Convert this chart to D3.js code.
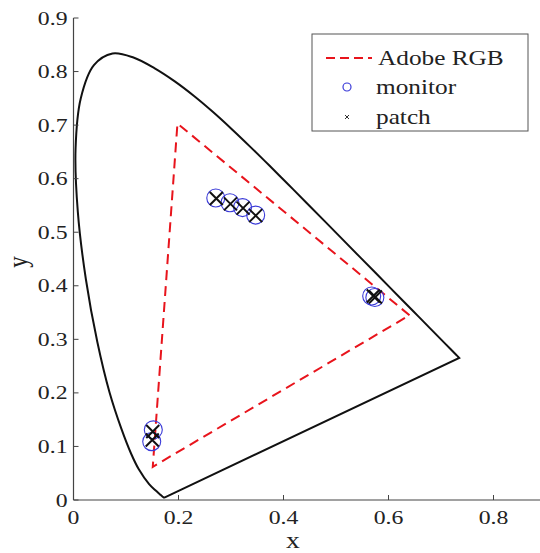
<!DOCTYPE html>
<html><head><meta charset="utf-8">
<script src="https://cdn.jsdelivr.net/npm/d3@7"></script>
<style>body{margin:0;background:#fff}svg{display:block}text{font-family:"Liberation Serif","Times New Roman",serif;fill:#222}</style>
</head><body>
<svg id="c" width="540" height="553"></svg>
<script>
// CIE 1931 spectral locus (x, y)
const locusX = [0.1741,0.1738,0.1733,0.1726,0.1714,0.1689,0.1644,0.1566,0.1440,0.1241,0.1096,0.0913,0.0687,0.0454,0.0235,0.0082,0.0039,0.0139,0.0389,0.0743,0.1142,0.1547,0.1929,0.2296,0.2658,0.3016,0.3373,0.3731,0.4087,0.4441,0.4788,0.5125,0.5448,0.5752,0.6029,0.6270,0.6482,0.6658,0.6915,0.7079,0.7190,0.7260,0.7300,0.7334,0.7347];
const locusY = [0.0050,0.0049,0.0048,0.0048,0.0051,0.0069,0.0109,0.0177,0.0297,0.0578,0.0868,0.1327,0.2007,0.2950,0.4127,0.5384,0.6548,0.7502,0.8120,0.8338,0.8262,0.8059,0.7816,0.7543,0.7243,0.6923,0.6589,0.6245,0.5896,0.5547,0.5202,0.4866,0.4544,0.4242,0.3965,0.3725,0.3514,0.3340,0.3083,0.2920,0.2809,0.2740,0.2700,0.2666,0.2653];
// Adobe RGB triangle (R, G, B)
const gamutX = [0.64, 0.198, 0.151];
const gamutY = [0.345, 0.703, 0.062];
// monitor measurements
const monitorX = [0.271, 0.298, 0.322, 0.347, 0.568, 0.574, 0.152, 0.149];
const monitorY = [0.564, 0.555, 0.546, 0.532, 0.381, 0.378, 0.131, 0.109];
// patch measurements
const patchX = [0.272, 0.299, 0.323, 0.347, 0.571, 0.575, 0.151, 0.150];
const patchY = [0.563, 0.553, 0.545, 0.531, 0.381, 0.379, 0.128, 0.112];
const xTicks = [0, 0.2, 0.4, 0.6, 0.8];
const yTicks = [0, 0.1, 0.2, 0.3, 0.4, 0.5, 0.6, 0.7, 0.8, 0.9];
const legendLabels = ["Adobe RGB", "monitor", "patch"];

const svg = d3.select("#c");
const x = d3.scaleLinear().domain([0, 0.9]).range([73.5, 546]);
const y = d3.scaleLinear().domain([0, 0.9]).range([500, 18]);
const fmt = t => t === 0 ? "0" : d3.format(".1f")(t);

function stext(g, px, py, str, size, anchor, sx) {
  return g.append("text").attr("transform", `translate(${px},${py}) scale(${sx},1)`)
    .attr("text-anchor", anchor).attr("font-size", size).text(str);
}

// locus
const locus = locusX.map((v, i) => [v, locusY[i]]);
svg.append("path")
  .attr("d", d3.line().x(d => x(d[0])).y(d => y(d[1])).curve(d3.curveCatmullRom)(locus) + "Z")
  .attr("fill", "none").attr("stroke", "#111").attr("stroke-width", 2);

// gamut
const gamut = gamutX.map((v, i) => [v, gamutY[i]]);
svg.append("path")
  .attr("d", d3.line().x(d => x(d[0])).y(d => y(d[1]))(gamut) + "Z")
  .attr("fill", "none").attr("stroke", "#e8141c").attr("stroke-width", 2)
  .attr("stroke-dasharray", "10,6");

// monitor circles
svg.append("g").selectAll("circle").data(monitorX).join("circle")
  .attr("cx", d => x(d)).attr("cy", (d, i) => y(monitorY[i])).attr("r", 9)
  .attr("fill", "none").attr("stroke", "#3a3ad8").attr("stroke-width", 1.1);

// patch crosses
const cs = 6.5;
const pg = svg.append("g").attr("stroke", "#111").attr("stroke-width", 2);
patchX.forEach((d, i) => {
  const cx = x(d), cy = y(patchY[i]);
  pg.append("path").attr("d", `M${cx - cs},${cy - cs}L${cx + cs},${cy + cs}M${cx - cs},${cy + cs}L${cx + cs},${cy - cs}`);
});

// axes
const ax = svg.append("g");
ax.append("line").attr("x1", x(0)).attr("x2", x(0)).attr("y1", y(0.9)).attr("y2", y(0)).attr("stroke", "#444").attr("stroke-width", 1.2);
ax.append("line").attr("x1", x(0)).attr("x2", 546).attr("y1", y(0)).attr("y2", y(0)).attr("stroke", "#444").attr("stroke-width", 1.2);
yTicks.forEach(t => {
  ax.append("line").attr("x1", x(0)).attr("x2", x(0) + 5).attr("y1", y(t)).attr("y2", y(t)).attr("stroke", "#444");
  stext(ax, x(0) - 6, y(t) + 6.5, fmt(t), 19, "end", 1.25);
});
xTicks.forEach(t => {
  ax.append("line").attr("x1", x(t)).attr("x2", x(t)).attr("y1", y(0)).attr("y2", y(0) - 5).attr("stroke", "#444");
  stext(ax, x(t), 524, fmt(t), 19, "middle", 1.25);
});
stext(svg, 293, 548, "x", 23, "middle", 1.2);
svg.append("text").attr("transform", "translate(27,262) rotate(-90) scale(1,1.2)").attr("text-anchor", "middle").attr("font-size", 23).text("y");

// legend
const lg = svg.append("g");
lg.append("rect").attr("x", 312).attr("y", 34).attr("width", 216).attr("height", 97).attr("fill", "#fff").attr("stroke", "#555").attr("stroke-width", 1);
lg.append("line").attr("x1", 326).attr("x2", 372).attr("y1", 58).attr("y2", 58).attr("stroke", "#e8141c").attr("stroke-width", 2).attr("stroke-dasharray", "9,5");
lg.append("circle").attr("cx", 347).attr("cy", 87).attr("r", 4).attr("fill", "none").attr("stroke", "#3a3ad8").attr("stroke-width", 1.2);
lg.append("path").attr("d", "M345,115L349,119M345,119L349,115").attr("stroke", "#333").attr("stroke-width", 1);
stext(lg, 378, 65, legendLabels[0], 22, "start", 1.15);
stext(lg, 376, 94, legendLabels[1], 22, "start", 1.15);
stext(lg, 376, 124, legendLabels[2], 22, "start", 1.15);
</script>
</body></html>
